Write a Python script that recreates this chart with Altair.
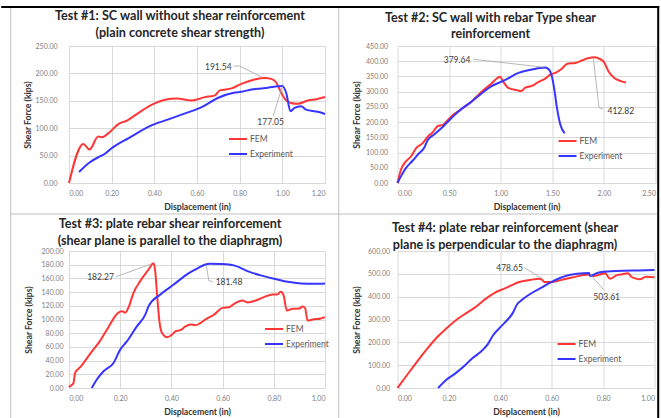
import altair as alt
import pandas as pd

RED = "#ff3636"
BLUE = "#3535ff"
FONT = "Lato"
GRID = "#d9d9d9"

# ---------------- Panel 1 ----------------
p1_fem_x = [0, 0.067, 0.096, 0.137, 0.155, 0.187, 0.233, 0.272, 0.326, 0.389, 0.45, 0.505, 0.575, 0.637, 0.684, 0.707,
            0.762, 0.808, 0.87, 0.92, 0.948, 0.972, 0.995, 1.018, 1.04, 1.073, 1.12, 1.16, 1.2]
p1_fem_y = [0, 71.3, 61, 85, 83.5, 91.5, 108, 114, 128, 143, 152, 154, 150.6, 156.7, 160, 169,
            172.6, 181, 189, 191.54, 190, 183, 164.6, 150.7, 146, 144.5, 150.7, 153, 157]
p1_exp_x = [0.047, 0.093, 0.14, 0.163, 0.202, 0.28, 0.389, 0.466, 0.544, 0.622, 0.70, 0.777, 0.808, 0.855, 0.9,
            0.933, 0.98, 1.0, 1.018, 1.038, 1.057, 1.088, 1.111, 1.166, 1.2]
p1_exp_y = [20, 36.6, 47.6, 52, 64, 82, 105.5, 116, 127, 138.4, 155.5, 165, 166.5, 170.7, 172.6,
            174, 176.5, 177.05, 164.6, 131, 137, 140, 134, 130, 126]
p1_x_ticks = [0, 0.2, 0.4, 0.6, 0.8, 1.0, 1.2]
p1_y_ticks = [0, 50, 100, 150, 200, 250]
p1_title = ["Test #1: SC wall without shear reinforcement", "(plain concrete shear strength)"]
p1_ann_text = ["191.54", "177.05"]
p1_ann_x = [0.70, 0.945]
p1_ann_y = [211.6, 111]
p1_lead_id = [0, 0, 0, 1, 1]
p1_lead_x = [0.77, 0.80, 0.905, 0.957, 1.0]
p1_lead_y = [213.4, 213.4, 193, 121.9, 176.5]

# ---------------- Panel 2 ----------------
p2_fem_x = [0, 0.033, 0.081, 0.13, 0.179, 0.244, 0.293, 0.342, 0.39, 0.44, 0.472, 0.537, 0.618, 0.716, 0.814, 0.911,
            0.995, 1.025, 1.074, 1.156, 1.198, 1.237, 1.302, 1.367, 1.432, 1.48, 1.53, 1.595, 1.644, 1.725, 1.79,
            1.855, 1.9, 1.953, 2.0, 2.044, 2.1, 2.165, 2.214]
p2_fem_y = [0, 43.6, 70.8, 87, 114, 131, 152.5, 166.7, 187.4, 190.7, 201.6, 223, 242, 267, 299.6, 327,
            349, 332, 312.7, 305, 302, 313, 319, 332, 343, 356, 361.7, 376, 392, 394.4, 403,
            410.8, 412.82, 408.6, 397.7, 367, 345, 334.5, 330]
p2_exp_x = [0, 0.033, 0.081, 0.146, 0.195, 0.26, 0.293, 0.358, 0.44, 0.52, 0.618, 0.716, 0.814, 0.911, 1.04,
            1.172, 1.302, 1.43, 1.465, 1.497, 1.523, 1.546, 1.579, 1.62]
p2_exp_y = [0, 21.8, 49, 73, 92.6, 116.6, 141.6, 160, 185, 212.5, 243, 267, 294, 318, 337.8,
            361.7, 372.6, 379.64, 373.7, 348.7, 299.6, 245, 190.7, 163.4]
p2_x_ticks = [0, 0.5, 1.0, 1.5, 2.0, 2.5]
p2_y_ticks = [0, 50, 100, 150, 200, 250, 300, 350, 400, 450]
p2_title = ["Test #2: SC wall with rebar Type shear", "reinforcement"]
p2_ann_text = ["379.64", "412.82"]
p2_ann_x = [0.577, 2.164]
p2_ann_y = [403, 236.6]
p2_lead_id = [0, 0, 1, 1, 1]
p2_lead_x = [0.732, 1.416, 1.897, 1.953, 1.992]
p2_lead_y = [406.5, 380.4, 410.8, 247.4, 243]

# ---------------- Panel 3 ----------------
p3_fem_x = [0, 0.004, 0.017, 0.024, 0.037, 0.05, 0.069, 0.095, 0.12, 0.148, 0.193, 0.207, 0.22, 0.233, 0.252,
            0.278, 0.311, 0.33, 0.337, 0.344, 0.354, 0.363, 0.383, 0.403, 0.416, 0.435, 0.455, 0.475, 0.494,
            0.514, 0.533, 0.566, 0.6, 0.625, 0.651, 0.677, 0.697, 0.73, 0.762, 0.795, 0.814, 0.827, 0.838,
            0.851, 0.873, 0.9, 0.912, 0.922, 0.932, 0.952, 0.984, 1.0]
p3_fem_y = [1, 2.5, 7, 22, 28, 33, 43, 56, 68, 85, 110, 112, 110, 118, 139,
            156, 173, 182.27, 170, 136.6, 95, 80.5, 74, 78, 83, 84.4, 90, 92.7, 91.7,
            95, 100, 107, 117, 118, 124.4, 127.8, 125, 127.8, 132.7, 136.6, 136.6, 140.5, 135.6,
            113, 115.6, 116, 119, 117, 98.5, 100, 101.5, 103.4]
p3_exp_x = [0.089, 0.108, 0.135, 0.174, 0.2, 0.226, 0.265, 0.298, 0.311, 0.357, 0.409, 0.461, 0.507, 0.53, 0.55,
            0.592, 0.644, 0.697, 0.749, 0.801, 0.854, 0.906, 0.958, 1.0]
p3_exp_y = [0, 12, 24.4, 36.6, 56, 68, 90, 107, 119.5, 136.6, 151, 166, 175.6, 180, 181.48,
            181, 179, 170.7, 164.4, 159.5, 155, 152.7, 152.2, 152.7]
p3_x_ticks = [0, 0.2, 0.4, 0.6, 0.8, 1.0]
p3_y_ticks = [0, 20, 40, 60, 80, 100, 120, 140, 160, 180, 200]
p3_title = ["Test #3: plate rebar shear reinforcement", "(shear plane is parallel to the diaphragm)"]
p3_ann_text = ["182.27", "181.48"]
p3_ann_x = [0.123, 0.625]
p3_ann_y = [162.4, 155]
p3_lead_id = [0, 0, 1, 1, 1]
p3_lead_x = [0.184, 0.324, 0.537, 0.546, 0.562]
p3_lead_y = [162.4, 181.4, 178, 157, 155]

# ---------------- Panel 4 ----------------
p4_fem_x = [0, 0.038, 0.077, 0.115, 0.154, 0.192, 0.231, 0.269, 0.308, 0.34, 0.378, 0.417, 0.442, 0.468, 0.493,
            0.52, 0.551, 0.562, 0.571, 0.596, 0.625, 0.648, 0.68, 0.725, 0.745, 0.763, 0.788, 0.808, 0.827,
            0.852, 0.875, 0.897, 0.91, 0.925, 0.942, 0.968, 1.0]
p4_fem_y = [0, 58, 117, 171, 222, 263, 300, 329, 358, 388, 417, 436, 449, 462, 469,
            474, 478.65, 475, 464, 464, 470, 476, 484, 495, 497, 490, 497, 503, 478,
            493, 498, 503, 487, 480, 476, 487, 485]
p4_exp_x = [0.158, 0.186, 0.224, 0.263, 0.288, 0.333, 0.353, 0.372, 0.404, 0.429, 0.449, 0.465, 0.481, 0.519,
            0.558, 0.596, 0.635, 0.66, 0.699, 0.745, 0.75, 0.769, 0.788, 0.83, 0.878, 0.94, 1.0]
p4_exp_y = [0, 32, 63, 99.5, 127, 168, 194.6, 231, 270.7, 300, 329, 366, 383, 414,
            438, 463, 483, 493, 500, 503.61, 490, 500, 507, 511, 513.6, 515, 516.6]
p4_x_ticks = [0, 0.2, 0.4, 0.6, 0.8, 1.0]
p4_y_ticks = [0, 100, 200, 300, 400, 500, 600]
p4_title = ["Test #4: plate rebar reinforcement (shear", "plane is perpendicular to the diaphragm)"]
p4_ann_text = ["478.65", "503.61"]
p4_ann_x = [0.436, 0.814]
p4_ann_y = [526.8, 399.5]
p4_lead_id = [0, 0, 1, 1]
p4_lead_x = [0.493, 0.564, 0.75, 0.801]
p4_lead_y = [526.8, 478.5, 497.8, 432]

SERIES = ["FEM", "Experiment"]
X_TITLE = "Displacement (in)"
Y_TITLE = "Shear Force (kips)"


def make_panel(fem_x, fem_y, exp_x, exp_y, x_ticks, y_ticks, title, title_dx, title_offset,
               leg_x, leg_y, ann_text, ann_x, ann_y, lead_id, lead_x, lead_y, w, h,
               y_label_pad, y_title_pad, frame=None):
    df = pd.DataFrame({
        "x": fem_x + exp_x,
        "y": fem_y + exp_y,
        "series": [SERIES[0]] * len(fem_x) + [SERIES[1]] * len(exp_x),
        "k": list(range(len(fem_x))) + list(range(len(exp_x))),
    })
    xs = alt.Scale(domain=[x_ticks[0], x_ticks[-1]], nice=False, zero=False)
    ys = alt.Scale(domain=[y_ticks[0], y_ticks[-1]], nice=False, zero=False)
    xax = alt.Axis(values=x_ticks, format=".2f", labelPadding=6, titlePadding=6)
    yax = alt.Axis(values=y_ticks, format=".2f", labelPadding=y_label_pad, titlePadding=y_title_pad)

    def X():
        return alt.X("x:Q", scale=xs, axis=xax, title=X_TITLE)

    def Y():
        return alt.Y("y:Q", scale=ys, axis=yax, title=Y_TITLE)

    layers = []
    if frame is not None:
        layers.append(frame)
    lines = alt.Chart(df).mark_line(strokeWidth=2, interpolate="monotone").encode(
        x=X(), y=Y(),
        color=alt.Color("series:N",
                        scale=alt.Scale(domain=SERIES, range=[RED, BLUE]),
                        legend=alt.Legend(title=None, orient="none", legendX=leg_x, legendY=leg_y,
                                          symbolType="stroke", symbolSize=324, symbolStrokeWidth=2,
                                          labelFont=FONT, labelFontSize=8.5, labelColor="#595959",
                                          rowPadding=0, padding=0, labelOffset=2)),
        order="k:Q",
    )
    lead_df = pd.DataFrame({"x": lead_x, "y": lead_y, "id": lead_id, "k": list(range(len(lead_x)))})
    leads = alt.Chart(lead_df).mark_line(color="#a6a6a6", strokeWidth=0.8).encode(
        x=X(), y=Y(), detail="id:N", order="k:Q")
    ann_df = pd.DataFrame({"x": ann_x, "y": ann_y, "t": ann_text})
    texts = alt.Chart(ann_df).mark_text(font=FONT, fontSize=8.5, color="#404040",
                                        align="center", baseline="middle").encode(
        x=X(), y=Y(), text="t:N")
    layers += [lines, leads, texts]
    return alt.layer(*layers).properties(
        width=w, height=h,
        title=alt.TitleParams(text=title, font=FONT, fontSize=12.6, fontWeight="bold", color="#262626",
                              anchor="middle", frame="group", dx=title_dx, offset=title_offset,
                              lineHeight=16.5),
    )


# panel 1 plot origin sits at (67.8, 45) in the picture
OX, OY = 67.8, 45
frame_df = pd.DataFrame({"a": [0]})
fr_black_top = alt.Chart(frame_df).mark_rule(color="#000000", strokeWidth=2).encode(
    x=alt.value(0 - OX), x2=alt.value(658 - OX), y=alt.value(6 - OY))
fr_black_right = alt.Chart(frame_df).mark_rule(color="#000000", strokeWidth=2).encode(
    x=alt.value(657 - OX), y=alt.value(5 - OY), y2=alt.value(418 - OY))
fr_left = alt.Chart(frame_df).mark_rule(color="#bfbfbf", strokeWidth=1).encode(
    x=alt.value(9.5 - OX), y=alt.value(7 - OY), y2=alt.value(418 - OY))
fr_mid = alt.Chart(frame_df).mark_rule(color="#bfbfbf", strokeWidth=1).encode(
    x=alt.value(337.5 - OX), y=alt.value(7 - OY), y2=alt.value(418 - OY))
fr_hor = alt.Chart(frame_df).mark_rule(color="#bfbfbf", strokeWidth=1).encode(
    x=alt.value(9.5 - OX), x2=alt.value(656 - OX), y=alt.value(213 - OY))
frame = alt.layer(fr_black_top, fr_black_right, fr_left, fr_mid, fr_hor)

c1 = make_panel(p1_fem_x, p1_fem_y, p1_exp_x, p1_exp_y, p1_x_ticks, p1_y_ticks, p1_title, -17, -34.5,
                159, 83, p1_ann_text, p1_ann_x, p1_ann_y, p1_lead_id, p1_lead_x, p1_lead_y, 256, 137,
                12, 3, frame=frame)
c2 = make_panel(p2_fem_x, p2_fem_y, p2_exp_x, p2_exp_y, p2_x_ticks, p2_y_ticks, p2_title, -36, 1,
                160, 85, p2_ann_text, p2_ann_x, p2_ann_y, p2_lead_id, p2_lead_x, p2_lead_y, 258, 137,
                10, 4)
c3 = make_panel(p3_fem_x, p3_fem_y, p3_exp_x, p3_exp_y, p3_x_ticks, p3_y_ticks, p3_title, -27, -0.5,
                195, 68, p3_ann_text, p3_ann_x, p3_ann_y, p3_lead_id, p3_lead_x, p3_lead_y, 256, 137,
                6, 8)
c4 = make_panel(p4_fem_x, p4_fem_y, p4_exp_x, p4_exp_y, p4_x_ticks, p4_y_ticks, p4_title, -21, -4.5,
                159, 83, p4_ann_text, p4_ann_x, p4_ann_y, p4_lead_id, p4_lead_x, p4_lead_y, 257, 137,
                8, 6)

chart = alt.concat(c1, c2, c3, c4, columns=2, spacing={"row": 68, "column": 70.5},
                   bounds="flush", align="all").resolve_scale(
    color="independent", x="independent", y="independent").resolve_legend(color="independent").properties(
    padding={"left": 0, "top": 5, "right": 0, "bottom": 0},
    background="white",
).configure_view(stroke=None).configure_axis(
    labelFont=FONT, labelFontSize=7, labelColor="#808080",
    titleFont=FONT, titleFontSize=8.7, titleFontWeight="bold", titleColor="#333333",
    gridColor=GRID, gridWidth=1, domain=False, ticks=False, tickSize=0,
)

chart.save("out.html", embed_options={"renderer": "svg", "actions": False})
